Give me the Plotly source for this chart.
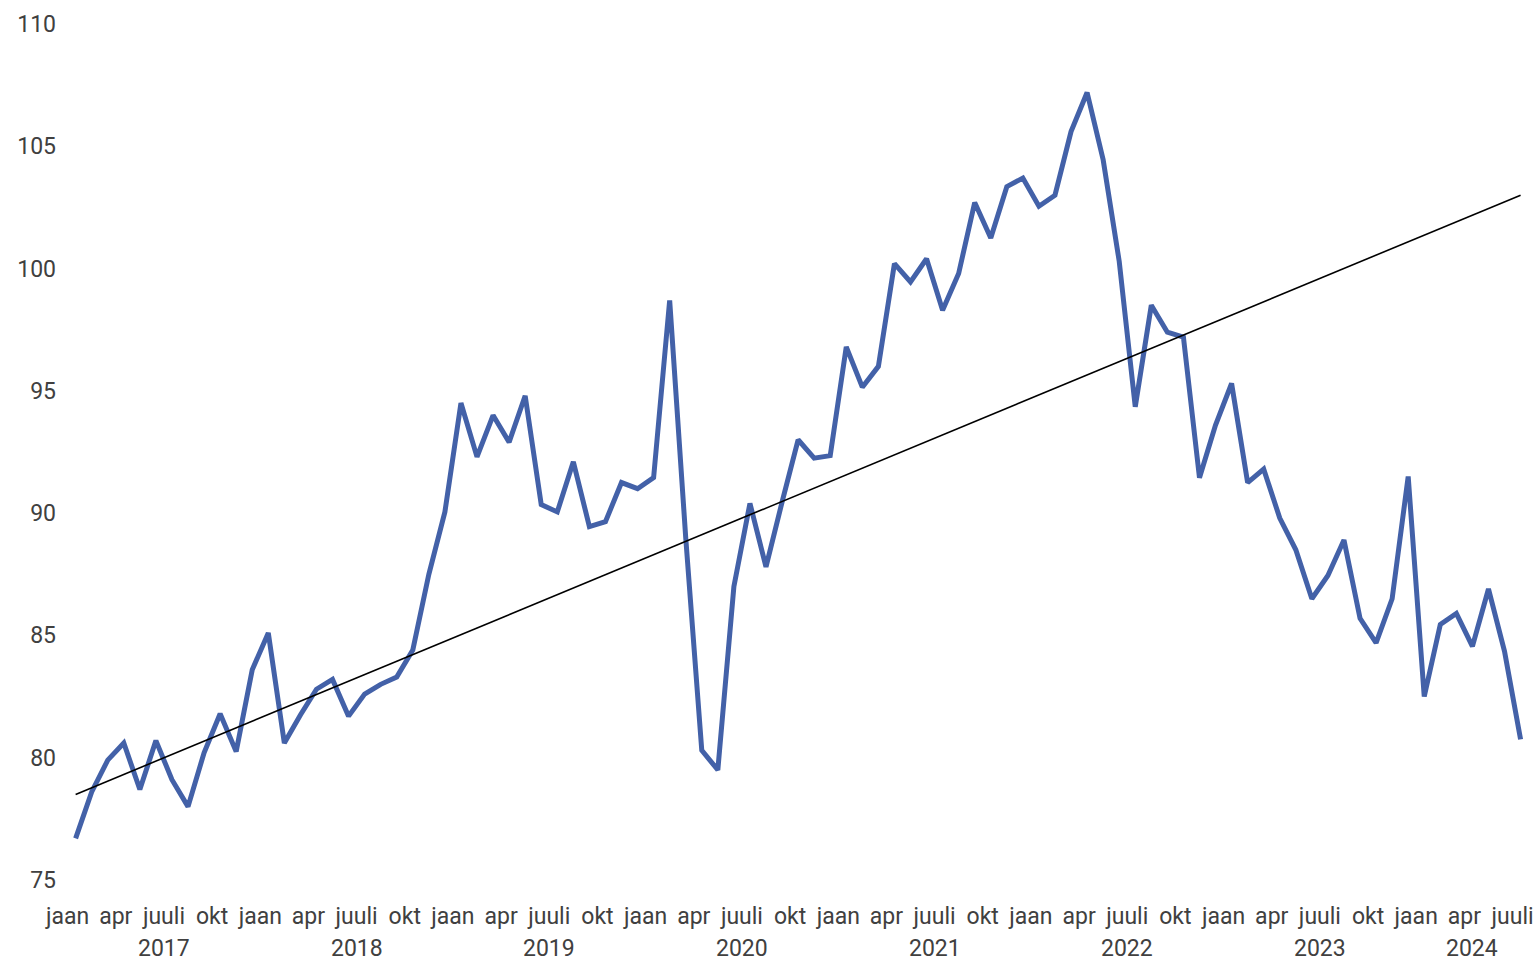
import numpy as np
import plotly.graph_objects as go

# Monthly values, Jan 2017 .. Jul 2024
years = [2017, 2018, 2019, 2020, 2021, 2022, 2023, 2024]
month_names = ["jaan", "apr", "juuli", "okt"]

values_2017 = [76.7, 78.6, 79.9, 80.6, 78.7, 80.7, 79.1, 78.0, 80.2, 81.8, 80.25, 83.6]
values_2018 = [85.1, 80.6, 81.75, 82.8, 83.2, 81.7, 82.6, 83.0, 83.3, 84.4, 87.5, 90.05]
values_2019 = [94.5, 92.3, 94.0, 92.9, 94.8, 90.35, 90.05, 92.1, 89.45, 89.65, 91.25, 91.0]
values_2020 = [91.45, 98.7, 89.0, 80.3, 79.5, 87.0, 90.4, 87.8, 90.45, 93.0, 92.25, 92.35]
values_2021 = [96.8, 95.15, 96.0, 100.2, 99.45, 100.4, 98.3, 99.8, 102.7, 101.25, 103.35, 103.7]
values_2022 = [102.55, 103.0, 105.6, 107.2, 104.45, 100.3, 94.35, 98.5, 97.4, 97.2, 91.45, 93.6]
values_2023 = [95.3, 91.25, 91.8, 89.8, 88.5, 86.5, 87.45, 88.9, 85.7, 84.7, 86.5, 91.5]
values_2024 = [82.5, 85.45, 85.9, 84.55, 86.9, 84.35, 80.75]

# linear trend line as drawn in the reference (value at first and last month)
trend_values = [78.5, 103.0]

series = (values_2017 + values_2018 + values_2019 + values_2020 + values_2021
          + values_2022 + values_2023 + values_2024)
months_per_year = [len(values_2017), len(values_2018), len(values_2019), len(values_2020),
                   len(values_2021), len(values_2022), len(values_2023), len(values_2024)]

idx = np.arange(len(series))
y = np.array(series)

LINE_BLUE = "#4361A8"
TEXT = "#404040"
FONT = "Roboto, 'Noto Sans', 'DejaVu Sans', sans-serif"
FS = 23

fig = go.Figure()
fig.add_trace(go.Scatter(x=idx, y=y, mode="lines",
                         line=dict(color=LINE_BLUE, width=5, shape="linear"),
                         hoverinfo="skip", showlegend=False))
fig.add_trace(go.Scatter(x=[idx[0], idx[-1]], y=trend_values, mode="lines",
                         line=dict(color="#000000", width=1.6),
                         hoverinfo="skip", showlegend=False))

# month tick labels every quarter
tickvals = []
ticktext = []
for i in range(0, len(series), 3):
    tickvals.append(i - 0.5)
    ticktext.append(month_names[(i % 12) // 3])

fig.update_xaxes(range=[-0.6, 90.4], tickmode="array", tickvals=tickvals, ticktext=ticktext,
                 showgrid=False, zeroline=False, showline=False, ticks="",
                 tickangle=0, automargin=False,
                 tickfont=dict(family=FONT, size=FS, color=TEXT),
                 ticklabelstandoff=20)
fig.update_yaxes(range=[75, 110], tickmode="array", tickvals=[75, 80, 85, 90, 95, 100, 105, 110],
                 showgrid=False, zeroline=False, showline=False, ticks="",
                 automargin=False,
                 tickfont=dict(family=FONT, size=FS, color=TEXT),
                 ticklabelstandoff=9)

# year group labels
start = 0
for yr, n in zip(years, months_per_year):
    center = start + (n - 1) / 2
    fig.add_annotation(x=center, xref="x", y=-0.0805, yref="paper",
                       text=str(yr), showarrow=False, yanchor="middle", xanchor="center",
                       font=dict(family=FONT, size=FS, color=TEXT))
    start += n

fig.update_layout(width=1539, height=962,
                  margin=dict(l=66, r=12, t=24, b=82),
                  paper_bgcolor="white", plot_bgcolor="white")

fig.write_html("out.html", config={"displayModeBar": False},
               post_script="document.body.style.margin='0';document.body.style.overflow='hidden';")
